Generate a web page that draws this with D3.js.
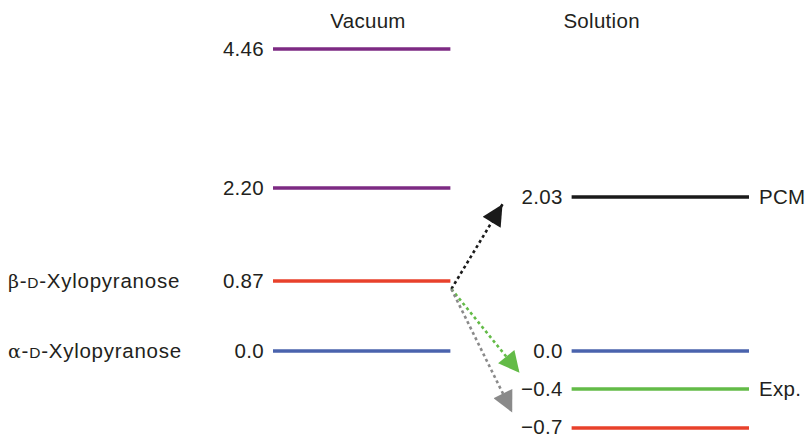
<!DOCTYPE html>
<html>
<head>
<meta charset="utf-8">
<script src="https://cdn.jsdelivr.net/npm/d3@7"></script>
<style>
  body { margin: 0; background: #fff; }
  text { font-family: "Liberation Sans", Arial, sans-serif; fill: #231f20; letter-spacing: 0.3px; }
</style>
</head>
<body>
<div id="chart"></div>
<script>
// energy levels (kcal/mol), one list per column
const columns = ["Vacuum", "Solution"];
const vacuumLevels = [4.46, 2.2, 0.87, 0.0];
const vacuumLabels = ["4.46", "2.20", "0.87", "0.0"];
const vacuumColors = ["#7d2a83", "#7d2a83", "#e8412b", "#4a63ad"];
const solutionLevels = [2.03, 0.0, -0.4, -0.7];
const solutionLabels = ["2.03", "0.0", "\u22120.4", "\u22120.7"];
const solutionColors = ["#1a1a1a", "#4a63ad", "#63bb47", "#e8412b"];
const solutionTags = ["PCM", "", "Exp.", ""];

// left-hand names for the vacuum levels
const isomerNames = [
  { greek: "\u03b2", value: 0.87 },
  { greek: "\u03b1", value: 0.0 },
];

// dotted arrows from beta (vacuum): target energy + how far across the gap
const arrowEnergy = [1.93, -0.23, -0.58];
const arrowReach = [0.43, 0.57, 0.51];
const arrowColors = ["#1a1a1a", "#63bb47", "#8a8a8a"];

// the level diagram is schematic, so the energy axis is piecewise
const axisStops = [-0.7, -0.4, 0.0, 0.87, 2.03, 2.2, 4.46];
const axisPixels = [428, 389, 351, 281, 197, 188, 49];

const width = 808,
  height = 435,
  fontSize = "20.5px";

const svg = d3
  .select("#chart")
  .append("svg")
  .attr("width", width)
  .attr("height", height);

const y = d3.scaleLinear().domain(axisStops).range(axisPixels);

const x = d3
  .scaleBand()
  .domain(columns)
  .range([273, 749])
  .paddingInner(0.406)
  .paddingOuter(0);

// column titles (not centred over the levels in the original)
svg
  .selectAll(".title")
  .data(columns)
  .join("text")
  .attr("x", (d) => (d === "Vacuum" ? x(d) + 95 : x(d) + 30))
  .attr("y", 28)
  .attr("text-anchor", "middle")
  .style("font-size", fontSize)
  .text((d) => d);

const drawColumn = (col, levels, labels, colors) => {
  const data = levels.map((v, i) => ({ v, label: labels[i], color: colors[i] }));
  svg
    .selectAll(".lvl-" + col)
    .data(data)
    .join("line")
    .attr("x1", x(col))
    .attr("x2", x(col) + x.bandwidth())
    .attr("y1", (d) => y(d.v))
    .attr("y2", (d) => y(d.v))
    .style("stroke", (d) => d.color)
    .style("stroke-width", 3.5);
  svg
    .selectAll(".num-" + col)
    .data(data)
    .join("text")
    .attr("x", x(col) - 9)
    .attr("y", (d) => y(d.v))
    .attr("dy", (d) => (d.v < -0.5 ? "0.28em" : "0.34em"))
    .attr("text-anchor", "end")
    .style("font-size", fontSize)
    .text((d) => d.label);
};

drawColumn("Vacuum", vacuumLevels, vacuumLabels, vacuumColors);
drawColumn("Solution", solutionLevels, solutionLabels, solutionColors);

// PCM / Exp. tags
svg
  .selectAll(".tag")
  .data(solutionLevels.map((v, i) => ({ v, tag: solutionTags[i] })).filter((d) => d.tag))
  .join("text")
  .attr("x", x("Solution") + x.bandwidth() + 10)
  .attr("y", (d) => y(d.v))
  .attr("dy", "0.34em")
  .style("font-size", fontSize)
  .text((d) => d.tag);

// isomer names, with small-cap D
const names = svg
  .selectAll(".name")
  .data(isomerNames)
  .join("text")
  .attr("x", 8)
  .attr("y", (d) => y(d.value))
  .attr("dy", "0.34em")
  .style("font-size", fontSize)
  .style("letter-spacing", "0.75px");
names.append("tspan").style("font-family", "'DejaVu Serif', serif").style("font-size", "19px").text((d) => d.greek);
names.append("tspan").text("-");
names.append("tspan").style("font-size", "15.5px").text("D");
names.append("tspan").text("-Xylopyranose");

// arrow heads
const defs = svg.append("defs");
arrowColors.forEach((c, i) => {
  defs
    .append("marker")
    .attr("id", "head" + i)
    .attr("viewBox", "0 0 10 10")
    .attr("refX", 10)
    .attr("refY", 5)
    .attr("markerUnits", "userSpaceOnUse")
    .attr("markerWidth", 23)
    .attr("markerHeight", 21)
    .attr("orient", "auto")
    .append("path")
    .attr("d", "M0,0L10,5L0,10Z")
    .style("fill", c);
});

const gap = d3
  .scaleLinear()
  .domain([0, 1])
  .range([x("Vacuum") + x.bandwidth(), x("Solution")]);

const x0 = gap(0) + 1,
  y0 = y(0.87) + 8;

arrowEnergy.forEach((e, i) => {
  svg
    .append("line")
    .attr("x1", x0)
    .attr("y1", y0)
    .attr("x2", gap(arrowReach[i]))
    .attr("y2", y(e))
    .style("stroke", arrowColors[i])
    .style("stroke-width", 2.6)
    .style("stroke-dasharray", "3,3")
    .attr("marker-end", "url(#head" + i + ")");
});
</script>
</body>
</html>
